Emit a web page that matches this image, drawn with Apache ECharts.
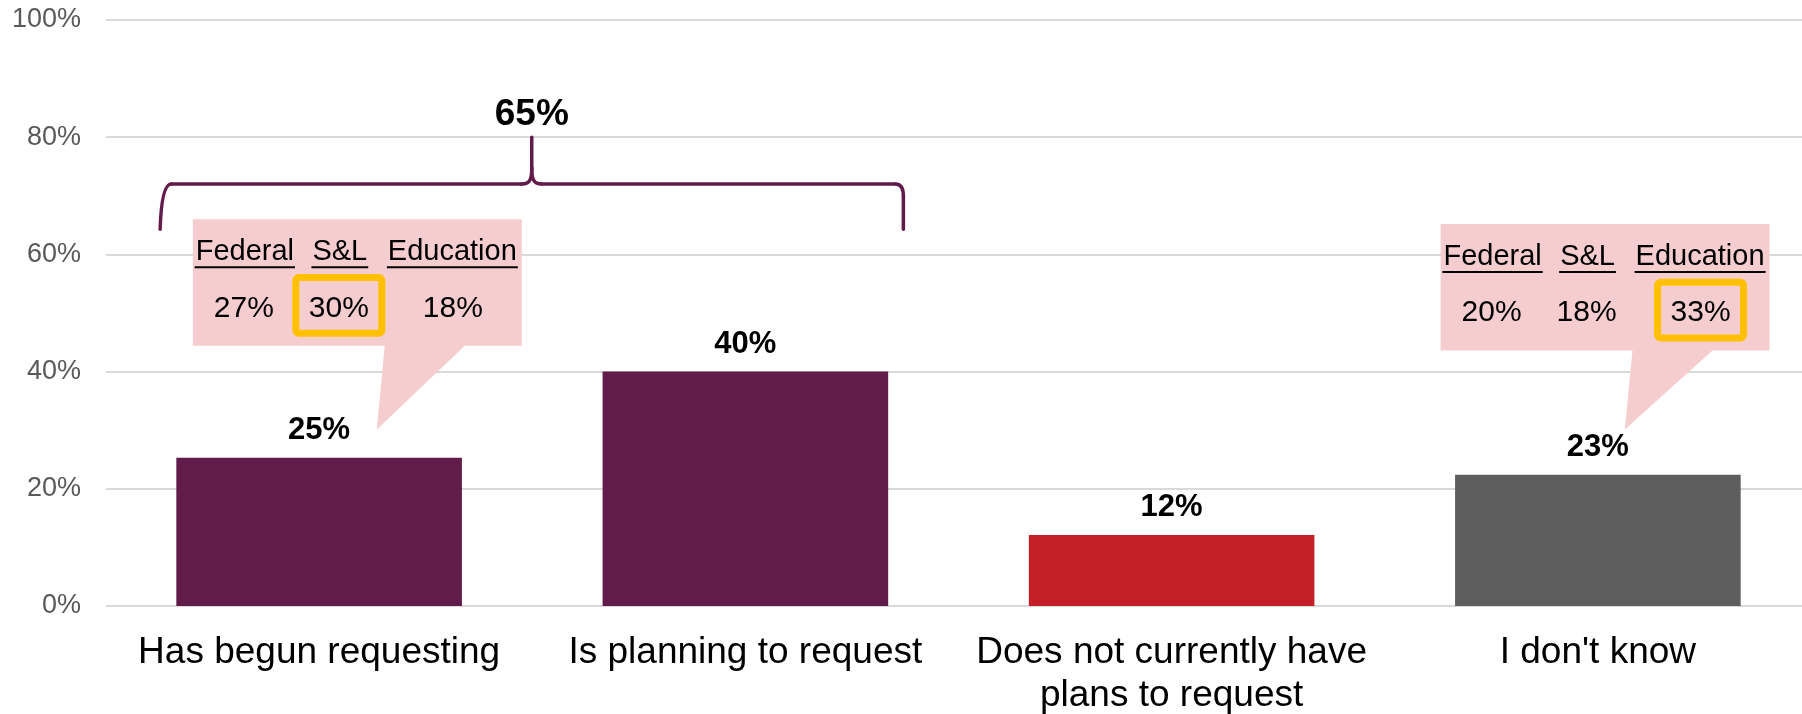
<!DOCTYPE html>
<html><head><meta charset="utf-8">
<script src="https://cdn.jsdelivr.net/npm/echarts@6/dist/echarts.min.js"></script>
<style>html,body{margin:0;padding:0;background:#fff}#c{width:1802px;height:714px}</style>
</head><body><div id="c"></div>
<script>
// ---- data ----
const categories = ['Has begun requesting', 'Is planning to request', 'Does not currently have\nplans to request', "I don't know"];
const values = [25.3, 40.0, 12.1, 22.4];
const valueLabels = ['25%', '40%', '12%', '23%'];
const barColors = ['#621C4B', '#621C4B', '#C41F26', '#5E5E5E'];
const bracketCategories = [0, 1];
const segmentHeaders = ['Federal', 'S&L', 'Education'];
const calloutBegun = ['27%', '30%', '18%'];      // for "Has begun requesting"
const calloutDontKnow = ['20%', '18%', '33%'];   // for "I don't know"
const highlightBegun = 1;
const highlightDontKnow = 2;

const FONT = '"Liberation Sans", Arial, sans-serif';
const chart = echarts.init(document.getElementById('c'), null, {renderer: 'canvas'});

chart.setOption({
  animation: false,
  backgroundColor: '#fff',
  grid: {left: 106, right: -9, top: 20, bottom: 108, containLabel: false, outerBoundsMode: 'none'},
  xAxis: {
    type: 'category', data: categories,
    axisLine: {show: false}, axisTick: {show: false},
    axisLabel: {interval: 0, fontSize: 37, color: '#000', fontFamily: FONT, margin: 25, lineHeight: 43}
  },
  yAxis: {
    type: 'value', min: 0, max: 100, interval: 20,
    axisLine: {show: false}, axisTick: {show: false},
    axisLabel: {formatter: '{value}%', fontSize: 27, color: '#595959', fontFamily: FONT, margin: 25},
    splitLine: {lineStyle: {color: '#D9D9D9', width: 2}}
  },
  series: [{
    type: 'bar', barCategoryGap: '33%',
    data: values.map((v, i) => ({value: v, itemStyle: {color: barColors[i]}})),
    label: {
      show: true, position: 'top', distance: 12,
      formatter: p => valueLabels[p.dataIndex],
      fontSize: 31, fontWeight: 'bold', color: '#000', fontFamily: FONT
    }
  }]
});

// ---- annotations ----
const px = (cat, val) => chart.convertToPixel({gridIndex: 0}, [cat, val]);
const yOf = v => px(0, v)[1];
const cx = c => px(c, 0)[0];
const measure = (() => {
  const ctx = document.createElement('canvas').getContext('2d');
  return (t, size, weight) => { ctx.font = (weight || 'normal') + ' ' + size + 'px ' + FONT; return ctx.measureText(t).width; };
})();
const txt = (x, y, text, size, weight, color) => ({
  type: 'text', x: x, y: y, z: 110,
  style: {text: text, fill: color || '#000', fontSize: size, fontWeight: weight || 'normal', fontFamily: FONT,
    align: 'center', verticalAlign: 'middle', textAlign: 'center', textVerticalAlign: 'middle'}
});

const g = [];
// bracket
const BR = '#621C4B', BW = 3.5;
const x0 = cx(bracketCategories[0]) - 159, x1 = cx(bracketCategories[1]) + 158;
const xm = (x0 + x1) / 2, yH = yOf(72), yEnd = yOf(64.3), yTip = yOf(80);
const ls = {stroke: BR, lineWidth: BW, fill: null, lineCap: 'round'};
g.push({type: 'bezierCurve', z: 100, shape: {x1: x0, y1: yEnd, x2: x0 + 11, y2: yH, cpx1: x0 + 1.5, cpy1: yH}, style: ls});
g.push({type: 'line', z: 100, shape: {x1: x0 + 11, y1: yH, x2: xm - 10, y2: yH}, style: ls});
g.push({type: 'bezierCurve', z: 100, shape: {x1: xm - 10, y1: yH, x2: xm, y2: yH - 16, cpx1: xm - 1, cpy1: yH, cpx2: xm, cpy2: yH - 6}, style: ls});
g.push({type: 'line', z: 100, shape: {x1: xm, y1: yH - 16, x2: xm, y2: yTip}, style: ls});
g.push({type: 'bezierCurve', z: 100, shape: {x1: xm + 10, y1: yH, x2: xm, y2: yH - 16, cpx1: xm + 1, cpy1: yH, cpx2: xm, cpy2: yH - 6}, style: ls});
g.push({type: 'line', z: 100, shape: {x1: xm + 10, y1: yH, x2: x1 - 8, y2: yH}, style: ls});
g.push({type: 'bezierCurve', z: 100, shape: {x1: x1 - 8, y1: yH, x2: x1, y2: yH + 12, cpx1: x1, cpy1: yH}, style: ls});
g.push({type: 'line', z: 100, shape: {x1: x1, y1: yH + 12, x2: x1, y2: yEnd}, style: ls});
const total = bracketCategories.reduce((s, c) => s + parseFloat(valueLabels[c]), 0);
g.push(txt(xm, yOf(83.8), total + '%', 37, 'bold'));

// callouts
function callout(cat, dx, top, tipDx, vals, hi) {
  const left = cx(cat) + dx, w = 329, h = 126.5;
  const pink = '#F6CDCF';
  g.push({type: 'rect', z: 105, shape: {x: left, y: top, width: w, height: h}, style: {fill: pink}});
  g.push({type: 'polygon', z: 105, shape: {points: [[left + 192, top + h - 1], [left + 273, top + h - 1], [cx(cat) + tipDx, yOf(30.1)]]}, style: {fill: pink}});
  const colX = [52, 147, 259.5];
  const valX = [51, 146, 260];
  segmentHeaders.forEach((hd, i) => {
    const x = left + colX[i];
    g.push(txt(x, top + 33, hd, 29));
    const tw = measure(hd, 29);
    g.push({type: 'rect', z: 110, shape: {x: x - tw / 2 - 1, y: top + 47, width: tw + 2, height: 2}, style: {fill: '#000'}});
    g.push(txt(left + valX[i], top + 89, vals[i], 30));
  });
  const hx = left + valX[hi];
  g.push({type: 'rect', z: 108, shape: {x: hx - 43, y: top + 58.3, width: 86, height: 55.6, r: 3},
    style: {fill: null, stroke: '#FFC000', lineWidth: 7}});
}
callout(0, -126.3, 219.3, 57.7, calloutBegun, highlightBegun);
callout(3, -157.3, 224, 27, calloutDontKnow, highlightDontKnow);

chart.setOption({graphic: g});
</script>
</body></html>
